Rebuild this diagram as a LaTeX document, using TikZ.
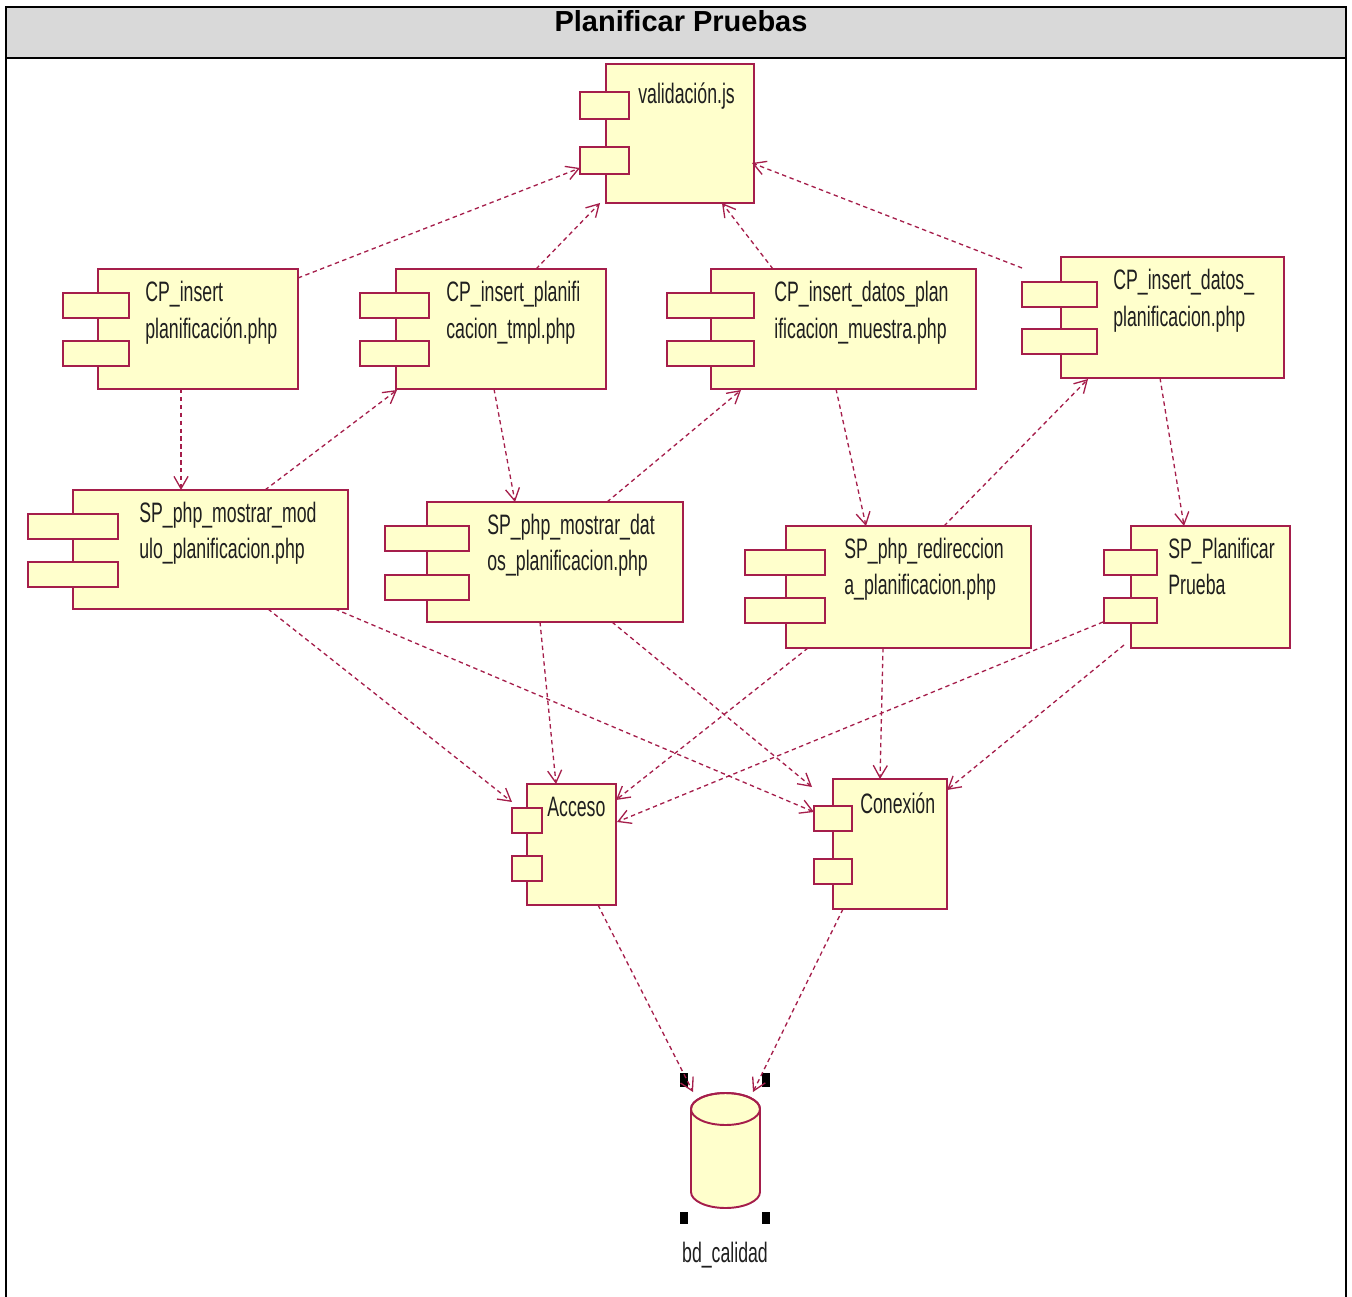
\documentclass[tikz,border=0pt]{standalone}
\usepackage{fontspec}
\setmainfont{Liberation Sans}
\newfontfamily\narrowfont[FakeStretch=0.63]{Liberation Sans}
\usetikzlibrary{arrows.meta,calc}
\definecolor{umlred}{RGB}{165,30,75}
\definecolor{umlfill}{RGB}{255,255,204}
\definecolor{titlegray}{RGB}{217,217,217}

% height of the two small port rectangles of a component
\newcommand\porth{25}
% component: name, body x1 y1 x2 y2, port x1 x2, port a top, port b top
\newcommand\umlcomp[9]{%
  \node[body, minimum width={(#4-#2)*0.02cm}, minimum height={(#5-#3)*0.02cm}] (#1) at (#2,#3) {};
  \node[body, minimum width={(#7-#6)*0.02cm}, minimum height={\porth*0.02cm}] (#1-a) at (#6,#8) {};
  \node[body, minimum width={(#7-#6)*0.02cm}, minimum height={\porth*0.02cm}] (#1-b) at (#6,#9) {};
}
\newcommand\twolines[2]{\begin{tabular}[t]{@{}l@{}}#1\\#2\end{tabular}}

\begin{document}
\begin{tikzpicture}[x=0.02cm,y=-0.02cm,
  body/.style={draw=umlred, fill=umlfill, line width=1.1pt, anchor=north west,
               inner sep=0pt, outer sep=0pt},
  lbl/.style={font=\narrowfont\fontsize{16}{21}\selectfont, inner sep=0pt,
              anchor=base west, text=black!88},
  dep/.style={draw=umlred, line width=0.75pt, dash pattern=on 2.5pt off 2pt,
              -{Straight Barb[length=7pt,width=8pt]}},
  handle/.style={fill=black}]
\useasboundingbox (0,0) rectangle (1352,1297);

% frame and title bar
\draw[line width=1.2pt] (6,1297) -- (6,7) -- (1346,7) -- (1346,1297);
\filldraw[fill=titlegray, draw=black, line width=1.2pt] (6,7) rectangle (1346,58);
\node[font=\bfseries\fontsize{16.5}{20}\selectfont, anchor=base, inner sep=0pt] (title) at (681,32) {Planificar Pruebas};

% components
\renewcommand\porth{27}
\umlcomp{v}{606}{64}{754}{203}{580}{629}{92}{147}
\renewcommand\porth{25}
\umlcomp{ci}{98}{269}{298}{389}{63}{129}{293}{341}
\umlcomp{cp}{396}{269}{606}{389}{360}{429}{293}{341}
\umlcomp{cd}{711}{269}{976}{389}{667}{754}{293}{341}
\umlcomp{cr}{1061}{257}{1284}{378}{1022}{1097}{282}{329}
\umlcomp{sm}{73}{490}{348}{609}{28}{118}{514}{562}
\umlcomp{sd}{427}{502}{683}{622}{385}{469}{526}{575}
\umlcomp{sr}{786}{526}{1031}{648}{745}{825}{550}{598}
\umlcomp{sp}{1131}{526}{1290}{648}{1104}{1157}{550}{598}
\umlcomp{ac}{527}{784}{616}{905}{512}{542}{808}{856}
\umlcomp{co}{833}{779}{947}{909}{814}{852}{806}{859}

% component labels
\node[lbl] (v-t)  at (638,104)  {validación.js};
\node[lbl] (ci-t) at (145,302)  {\twolines{CP\_insert}{planificación.php}};
\node[lbl] (cp-t) at (446,302)  {\twolines{CP\_insert\_planifi}{cacion\_tmpl.php}};
\node[lbl] (cd-t) at (774,302)  {\twolines{CP\_insert\_datos\_plan}{ificacion\_muestra.php}};
\node[lbl] (cr-t) at (1113,290) {\twolines{CP\_insert\_datos\_}{planificacion.php}};
\node[lbl] (sm-t) at (139,522)  {\twolines{SP\_php\_mostrar\_mod}{ulo\_planificacion.php}};
\node[lbl] (sd-t) at (487,534)  {\twolines{SP\_php\_mostrar\_dat}{os\_planificacion.php}};
\node[lbl] (sr-t) at (844,558)  {\twolines{SP\_php\_redireccion}{a\_planificacion.php}};
\node[lbl] (sp-t) at (1168,558) {\twolines{SP\_Planificar}{Prueba}};
\node[lbl] (ac-t) at (547,816)  {Acceso};
\node[lbl] (co-t) at (860,813)  {Conexión};

% database
\filldraw[draw=umlred, fill=umlfill, line width=1.1pt]
  (691,1109) -- (691,1192) arc[start angle=180, end angle=360, x radius=0.69cm, y radius=0.32cm]
  -- (760,1109) arc[start angle=0, end angle=180, x radius=0.69cm, y radius=0.32cm] -- cycle;
\draw[draw=umlred, line width=1.1pt] (725.5,1109) ellipse [x radius=0.69cm, y radius=0.32cm];
\node[lbl, anchor=base] (db-t) at (725,1262) {bd\_calidad};
\coordinate (dbl) at (693,1092);
\coordinate (dbr) at (753,1092);
% selection handles
\fill[handle] (680,1073) rectangle (688,1087);
\fill[handle] (762,1073) rectangle (770,1087);
\fill[handle] (680,1212) rectangle (688,1224);
\fill[handle] (762,1212) rectangle (770,1224);

% dependencies
\draw[dep] ($(ci.north west)+(200,9)$) -- ($(v-b.north west)+(0,21)$);
\draw[dep] ($(cp.north west)+(140,0)$) -- ($(v.north west)+(-6,139)$);
\draw[dep] ($(cd.north west)+(62,0)$) -- ($(v.north west)+(116,139)$);
\draw[dep] ($(cr.north west)+(-39,11)$) -- ($(v.north west)+(146,99)$);
\draw[dep] ($(ci.north west)+(83,120)$) -- ($(sm.north west)+(108,0)$);
\draw[dep] ($(sm.north west)+(192,0)$) -- ($(cp.north west)+(1,121)$);
\draw[dep] ($(cp.north west)+(98,120)$) -- ($(sd.north west)+(88,0)$);
\draw[dep] ($(sd.north west)+(180,0)$) -- ($(cd.north west)+(30,121)$);
\draw[dep] ($(cd.north west)+(125,120)$) -- ($(sr.north west)+(80,0)$);
\draw[dep] ($(sr.north west)+(158,0)$) -- ($(cr.north west)+(27,122)$);
\draw[dep] ($(cr.north west)+(99,121)$) -- ($(sp.north west)+(53,0)$);
\draw[dep] ($(sm.north west)+(195,119)$) -- ($(ac.north west)+(-15,18)$);
\draw[dep] ($(sm.north west)+(262,119)$) -- ($(co.north west)+(-19,33)$);
\draw[dep] ($(sd.north west)+(113,120)$) -- ($(ac.north west)+(29,0)$);
\draw[dep] ($(sd.north west)+(185,120)$) -- ($(co.north west)+(-21,8)$);
\draw[dep] ($(sr.north west)+(22,122)$) -- ($(ac.north west)+(89,16)$);
\draw[dep] ($(sr.north west)+(97,122)$) -- ($(co.north west)+(47,0)$);
\draw[dep] ($(sp.north west)+(-28,96)$) -- ($(ac.north west)+(90,38)$);
\draw[dep] ($(sp.north west)+(-7,119)$) -- ($(co.north west)+(114,11)$);
\draw[dep] ($(ac.north west)+(71,121)$) -- (dbl);
\draw[dep] ($(co.north west)+(10,130)$) -- (dbr);
\end{tikzpicture}
\end{document}
